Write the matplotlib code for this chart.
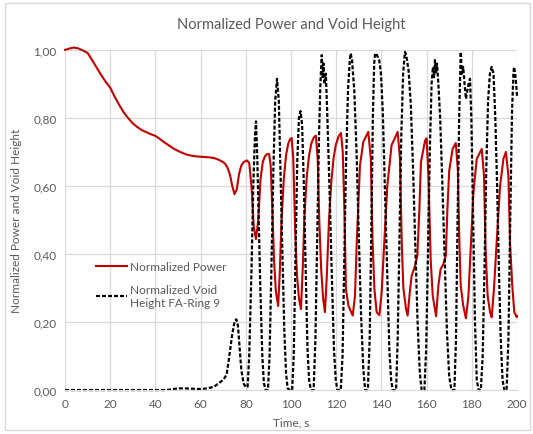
import numpy as np
import matplotlib.pyplot as plt
from matplotlib.patches import Rectangle

# normalized power
t_power = [0, 2, 4, 6, 8, 10, 12, 14, 16, 18, 20, 22, 24, 26, 28, 30, 32, 34, 36, 38,
           40, 42, 44, 46, 48, 50, 52, 54, 56, 58, 60, 62, 64, 66, 68, 70, 71, 72, 73, 74,
           75, 76, 77, 78, 79, 80.5, 81.5, 82.5, 83.5, 84.5, 85.5, 86.5, 87.5, 88.5, 89.5, 90.3,
           91, 91.8, 92.5, 93.3, 94.3, 95, 95.8, 96.8, 97.8, 98.8, 99.6, 100.3,
           101, 101.8, 102.6, 103.5, 104.4, 105.2, 106, 107, 108, 109, 110, 111,
           111.8, 112.5, 113.3, 114.2, 115, 115.8, 116.8, 117.8, 118.8, 119.8, 121, 122.1,
           122.9, 123.6, 124.3, 125.4, 127.3, 128.3, 129.1, 130.5, 132, 134.2,
           135.3, 136.1, 136.9, 137.9, 139.1, 140.1, 141.3, 142.6, 144.5, 147.2,
           148.2, 149, 149.7, 150.9, 151.6, 152.7, 153.4, 154.9, 155.9, 156.8, 157.5, 159.3, 160,
           160.8, 161.8, 162.7, 164.2, 165.2, 166.2, 167.4, 168.5, 169.2, 170, 171.5, 172.9,
           173.8, 174.5, 175.1, 176.2, 177.4, 178.5, 179.5, 180.7, 182.2, 184.4,
           185.4, 186.1, 187, 188.1, 188.8, 189.8, 191, 192.5, 194, 195.1,
           196.2, 196.9, 197.9, 198.8, 199.9, 200]
power = [1.000, 1.004, 1.007, 1.004, 0.998, 0.991, 0.970, 0.948, 0.926, 0.906, 0.889, 0.862, 0.838, 0.816, 0.799, 0.784, 0.773, 0.764, 0.758, 0.752,
         0.747, 0.738, 0.728, 0.719, 0.710, 0.703, 0.697, 0.692, 0.689, 0.687, 0.686, 0.685, 0.684, 0.682, 0.677, 0.670, 0.664, 0.652, 0.633, 0.600,
         0.576, 0.590, 0.635, 0.660, 0.670, 0.675, 0.668, 0.600, 0.480, 0.444, 0.500, 0.620, 0.670, 0.688, 0.694, 0.694,
         0.660, 0.520, 0.380, 0.290, 0.247, 0.340, 0.500, 0.620, 0.690, 0.725, 0.738, 0.741,
         0.680, 0.480, 0.340, 0.270, 0.238, 0.360, 0.520, 0.630, 0.690, 0.725, 0.742, 0.748,
         0.680, 0.500, 0.360, 0.270, 0.229, 0.330, 0.500, 0.610, 0.680, 0.720, 0.745, 0.756,
         0.700, 0.532, 0.297, 0.248, 0.219, 0.277, 0.435, 0.660, 0.730, 0.759,
         0.680, 0.435, 0.297, 0.229, 0.220, 0.287, 0.435, 0.600, 0.720, 0.759,
         0.680, 0.435, 0.300, 0.238, 0.219, 0.297, 0.336, 0.366, 0.395, 0.532, 0.670, 0.733, 0.740,
         0.630, 0.385, 0.277, 0.217, 0.307, 0.356, 0.370, 0.395, 0.532, 0.645, 0.709, 0.726,
         0.650, 0.435, 0.307, 0.248, 0.211, 0.277, 0.415, 0.581, 0.680, 0.709,
         0.630, 0.415, 0.277, 0.228, 0.214, 0.297, 0.435, 0.600, 0.680, 0.700,
         0.630, 0.435, 0.307, 0.229, 0.214, 0.218]

# normalized void height FA-ring 9
t_void = [0, 45, 47, 50, 53, 56, 60, 63, 66, 68, 70, 71.5, 72.5, 73.3, 74, 75, 75.8, 76.5, 77.3, 78, 79, 80, 80.8,
          81.5, 82.5, 83.3, 84, 84.5, 85, 85.7, 86.5, 87.3, 88, 88.8, 89.8,
          90.5, 91.3, 92.2, 93, 93.8, 94.6, 95.3, 96.2, 97, 97.8, 98.5, 99.5, 100.5,
          101.2, 102, 102.8, 103.5, 104.2, 104.9, 105.7, 106.5, 107.3, 108, 108.8, 110,
          110.8, 111.6, 112.4, 113, 113.6, 114, 114.4, 114.8, 115.4, 116, 117, 118, 119, 119.8, 120.5, 122,
          122.8, 123.5, 124.3, 125.2, 126, 126.4, 127, 128, 129, 130, 131, 132, 132.8, 134,
          134.8, 135.5, 136.2, 136.8, 137.2, 138, 139, 139.8, 140.6, 141.5, 142.5, 143.5, 144.3, 145, 146.5,
          147.2, 148, 148.8, 149.6, 150.4, 151, 152, 153, 154, 155, 156, 157, 157.8, 159,
          159.8, 160.6, 161.4, 162.2, 162.8, 163.3, 163.7, 164.1, 164.6, 165.2, 166, 167, 168, 169, 170, 171, 172.3,
          173, 173.7, 174.4, 175.1, 175.6, 176.2, 176.8, 177.4, 178, 178.6, 179.2, 179.8, 180.6, 181.4, 182.2, 183, 184,
          184.8, 185.6, 186.4, 187.2, 188, 188.8, 189.6, 190.4, 191.2, 192, 192.8, 193.6, 194.4, 195.4,
          196.2, 197, 197.8, 198.4, 198.7, 199.2, 199.6, 200]
void = [0.0, 0.0, 0.002, 0.005, 0.005, 0.004, 0.003, 0.005, 0.010, 0.020, 0.030, 0.045, 0.090, 0.130, 0.165, 0.200, 0.208, 0.190, 0.120, 0.060, 0.020, 0.008, 0.010,
        0.10, 0.35, 0.60, 0.74, 0.79, 0.70, 0.50, 0.28, 0.10, 0.02, 0.0, 0.0,
        0.10, 0.35, 0.65, 0.85, 0.915, 0.85, 0.65, 0.40, 0.18, 0.05, 0.005, 0.0, 0.0,
        0.10, 0.40, 0.68, 0.80, 0.82, 0.78, 0.60, 0.35, 0.12, 0.03, 0.0, 0.0,
        0.15, 0.45, 0.75, 0.90, 0.985, 0.92, 0.96, 0.90, 0.93, 0.82, 0.60, 0.35, 0.12, 0.03, 0.0, 0.0,
        0.10, 0.35, 0.65, 0.88, 0.97, 0.99, 0.97, 0.88, 0.70, 0.45, 0.22, 0.06, 0.0, 0.0,
        0.15, 0.45, 0.80, 0.96, 0.99, 0.985, 0.97, 0.93, 0.82, 0.60, 0.35, 0.12, 0.03, 0.0, 0.0,
        0.15, 0.45, 0.75, 0.93, 0.994, 0.985, 0.94, 0.84, 0.65, 0.42, 0.20, 0.05, 0.0, 0.0,
        0.12, 0.40, 0.70, 0.90, 0.95, 0.92, 0.97, 0.93, 0.96, 0.90, 0.80, 0.60, 0.38, 0.17, 0.04, 0.0, 0.0,
        0.15, 0.50, 0.80, 0.994, 0.93, 0.95, 0.90, 0.856, 0.88, 0.90, 0.915, 0.80, 0.50, 0.20, 0.03, 0.0, 0.0,
        0.10, 0.35, 0.65, 0.85, 0.93, 0.95, 0.93, 0.80, 0.60, 0.35, 0.15, 0.03, 0.0, 0.0,
        0.15, 0.50, 0.82, 0.93, 0.95, 0.93, 0.90, 0.865]

x_ticks = [0, 20, 40, 60, 80, 100, 120, 140, 160, 180, 200]
y_ticks = [0.0, 0.2, 0.4, 0.6, 0.8, 1.0]
y_labels = ['0,00', '0,20', '0,40', '0,60', '0,80', '1,00']

plt.rcParams['font.family'] = ['Lato', 'DejaVu Sans']
grey = '#595959'

fig = plt.figure(figsize=(5.33, 4.35), dpi=100)
ax = fig.add_axes([0.122, 0.101, 0.848, 0.782])

ax.plot(t_power, power, color='#c00000', lw=1.5, label='Normalized Power', clip_on=False)
ax.plot(t_void, void, color='black', lw=1.6, dashes=(1.8, 0.9),
        label='Normalized Void\nHeight FA-Ring 9', clip_on=False)

ax.set_xlim(0, 200)
ax.set_ylim(0, 1.0)
ax.set_xticks(x_ticks)
ax.set_yticks(y_ticks)
ax.set_yticklabels(y_labels)
ax.tick_params(colors=grey, labelsize=8.5, length=0, pad=6)
ax.grid(True, color='#d9d9d9', lw=0.9)
ax.set_axisbelow(True)
for s in ['top', 'right', 'left']:
    ax.spines[s].set_visible(False)
ax.spines['bottom'].set_color('#d9d9d9')

ax.set_title('Normalized Power and Void Height', color=grey, fontsize=10.5, pad=16)
ax.set_xlabel('Time, s', color=grey, fontsize=8.5, labelpad=5)
ax.set_ylabel('Normalized Power and Void Height', color=grey, fontsize=8.5, labelpad=8)

leg = ax.legend(loc='upper left', bbox_to_anchor=(0.045, 0.41), frameon=False,
                fontsize=8.5, handlelength=2.6, handletextpad=0.3, labelspacing=1.0)
for txt in leg.get_texts():
    txt.set_color(grey)

fig.patches.append(Rectangle((0.009, 0.009), 0.985, 0.982, transform=fig.transFigure,
                             fill=False, edgecolor='#d9d9d9', lw=1))

plt.savefig('out.png', dpi=100)
